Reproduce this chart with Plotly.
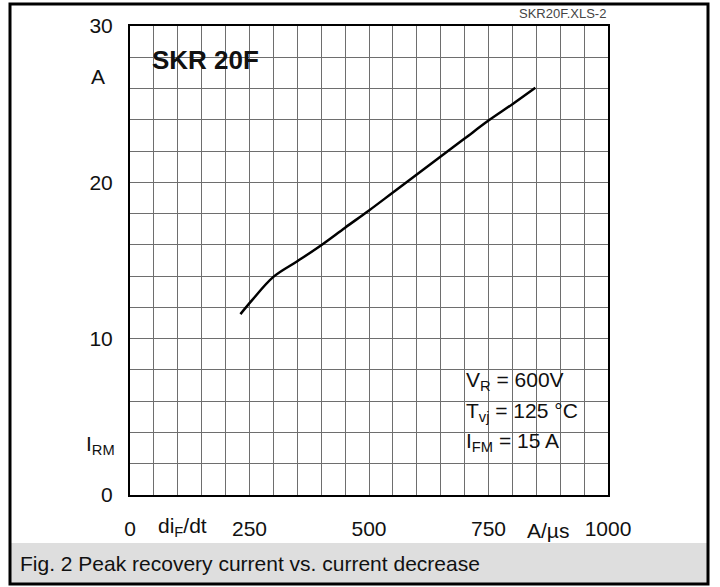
import plotly.graph_objects as go

# ---- data ----
di_dt = [231, 255, 300, 350, 400, 450, 500, 550, 600, 650, 700, 750, 800, 848]            # A/µs
i_rm = [11.57, 12.45, 13.95, 14.95, 15.98, 17.1, 18.2, 19.35, 20.5, 21.65, 22.8, 23.95, 25.0, 26.05]  # A

x_tick_vals = [0, 250, 500, 750, 1000]
x_tick_text = ["0", "250", "500", "750", "1000"]
y_tick_vals = [0, 10, 20, 30]
y_tick_text = ["0", "10", "20", "30"]
x_grid_step = 50
y_grid_step = 2

title_text = "SKR 20F"
file_tag = "SKR20F.XLS-2"
caption = "Fig. 2 Peak recovery current vs. current decrease"
conditions = ["V<sub>R</sub> = 600V", "T<sub>vj</sub> = 125 °C", "I<sub>FM</sub> = 15 A"]

FONT = "Liberation Sans, Arial, sans-serif"
GRID = "#6e6e6e"

W, H = 720, 587
L, R, T, B = 130, 608, 26, 495  # plot area in pixels
pw, ph = R - L, B - T


def px(x):
    return (x - L) / pw


def py(y):
    return (B - y) / ph


fig = go.Figure()
fig.add_trace(go.Scatter(
    x=di_dt, y=i_rm, mode="lines",
    line=dict(color="black", width=2.5, shape="spline", smoothing=1.0),
    hoverinfo="skip", showlegend=False,
))

axis_common = dict(
    showline=True, linecolor="black", linewidth=2, mirror=True,
    showgrid=True, gridcolor=GRID, gridwidth=1, zeroline=False,
    ticks="", tickfont=dict(family=FONT, size=21, color="#111"),
)

fig.update_xaxes(
    range=[0, 1000], tickvals=x_tick_vals, ticktext=x_tick_text,
    minor=dict(dtick=x_grid_step, showgrid=True, gridcolor=GRID, gridwidth=1),
    ticklabelstandoff=14, **axis_common,
)
fig.update_yaxes(
    range=[0, 30], tickvals=y_tick_vals, ticktext=y_tick_text,
    minor=dict(dtick=y_grid_step, showgrid=True, gridcolor=GRID, gridwidth=1),
    ticklabelstandoff=11, **axis_common,
)

shapes = [
    # white boxes masking the grid behind the labels
    dict(type="rect", xref="paper", yref="paper", layer="between",
         x0=px(143), x1=px(270), y0=py(84), y1=py(38),
         fillcolor="white", line=dict(width=0)),
    dict(type="rect", xref="paper", yref="paper", layer="between",
         x0=px(458), x1=px(592), y0=py(463), y1=py(363),
         fillcolor="white", line=dict(width=0)),
    # caption band
    dict(type="rect", xref="paper", yref="paper", layer="above",
         x0=px(10), x1=px(708), y0=py(584), y1=py(543),
         fillcolor="#dedede", line=dict(width=0)),
    # outer frame
    dict(type="rect", xref="paper", yref="paper", layer="above",
         x0=px(10), x1=px(708), y0=py(584), y1=py(4),
         fillcolor="rgba(0,0,0,0)", line=dict(color="black", width=3)),
]

ann = []
ann.append(dict(text=f"<b>{title_text}</b>", x=px(150), y=py(60), xref="paper", yref="paper",
                xanchor="left", yanchor="middle", showarrow=False,
                font=dict(family=FONT, size=26, color="#111")))
ann.append(dict(text=file_tag, x=1.0, y=py(13), xref="paper", yref="paper",
                xanchor="right", yanchor="middle", showarrow=False,
                font=dict(family=FONT, size=13, color="#444")))
ann.append(dict(text=caption, x=px(18), y=py(563), xref="paper", yref="paper",
                xanchor="left", yanchor="middle", showarrow=False,
                font=dict(family=FONT, size=21, color="#111")))
for txt, yy in zip(conditions, [381, 412, 442]):
    ann.append(dict(text=txt, x=px(464), y=py(yy), xref="paper", yref="paper",
                    xanchor="left", yanchor="middle", showarrow=False,
                    font=dict(family=FONT, size=21, color="#111")))
# axis unit / quantity labels
ann.append(dict(text="A", x=px(107), y=py(77), xref="paper", yref="paper",
                xanchor="right", yanchor="middle", showarrow=False,
                font=dict(family=FONT, size=21, color="#111")))
ann.append(dict(text="I<sub>RM</sub>", x=px(117), y=py(445), xref="paper", yref="paper",
                xanchor="right", yanchor="middle", showarrow=False,
                font=dict(family=FONT, size=21, color="#111")))
ann.append(dict(text="di<sub>F</sub>/dt", x=px(182), y=py(527), xref="paper", yref="paper",
                xanchor="center", yanchor="middle", showarrow=False,
                font=dict(family=FONT, size=21, color="#111")))
ann.append(dict(text="A/µs", x=px(548), y=py(530), xref="paper", yref="paper",
                xanchor="center", yanchor="middle", showarrow=False,
                font=dict(family=FONT, size=21, color="#111")))

fig.update_layout(
    width=W, height=H,
    margin=dict(l=L, r=W - R, t=T, b=H - B, pad=0),
    paper_bgcolor="white", plot_bgcolor="white",
    shapes=shapes, annotations=ann, showlegend=False,
)

fig.write_html("out.html")
